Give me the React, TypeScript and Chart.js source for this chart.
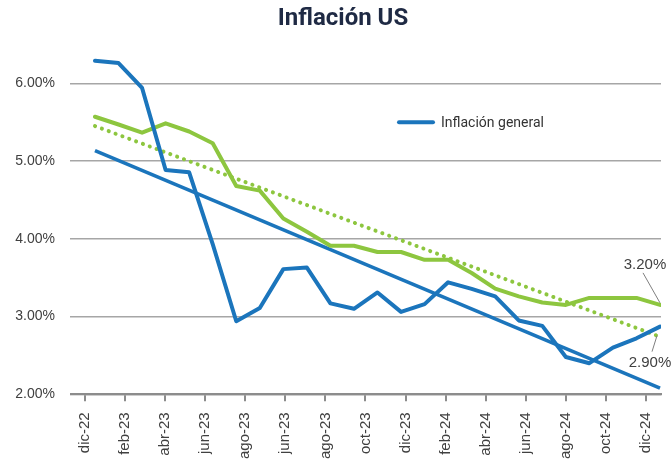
import React, { useEffect, useRef } from 'react';
import { Chart, registerables } from 'chart.js';

Chart.register(...registerables);

// Monthly observations, dic-22 .. dic-24
const months = [
  'dic-22', 'ene-23', 'feb-23', 'mar-23', 'abr-23', 'may-23', 'jun-23', 'jul-23', 'ago-23',
  'sep-23', 'oct-23', 'nov-23', 'dic-23', 'ene-24', 'feb-24', 'mar-24', 'abr-24', 'may-24',
  'jun-24', 'jul-24', 'ago-24', 'sep-24', 'oct-24', 'nov-24', 'dic-24',
];
const inflacionGeneral = [
  6.29, 6.26, 5.94, 4.885, 4.855, 3.93, 2.94, 3.11, 3.61, 3.63, 3.17, 3.1, 3.31,
  3.06, 3.16, 3.44, 3.355, 3.26, 2.95, 2.88, 2.48, 2.4, 2.6, 2.72, 2.87,
];
const inflacionSubyacente = [
  5.57, 5.47, 5.365, 5.485, 5.38, 5.23, 4.68, 4.62, 4.26, 4.09, 3.91, 3.91, 3.83,
  3.83, 3.73, 3.73, 3.56, 3.36, 3.26, 3.18, 3.15, 3.24, 3.24, 3.24, 3.15,
];
// Trend lines: start and end values
const trendIndex = [0, 24];
const tendenciaGeneral = [5.135, 2.08];
const tendenciaSubyacente = [5.45, 2.74];

// Axis tick labels (as shown in the reference)
const tickLabels = [
  'dic-22', 'feb-23', 'abr-23', 'jun-23', 'ago-23', 'jun-23', 'ago-23', 'oct-23',
  'dic-23', 'feb-24', 'abr-24', 'jun-24', 'ago-24', 'oct-24', 'dic-24',
];
const yTicks = [2, 3, 4, 5, 6];
const endLabels = ['2.90%', '3.20%'];

const BLUE = '#1b75bc';
const GREEN = '#8dc63f';
const TEXT = '#404040';
const SANS = "'Liberation Sans', Arial, sans-serif";

const legendPlugin = {
  id: 'customLegend',
  afterDraw(chart: any) {
    const { ctx, chartArea } = chart;
    const ds = chart.data.datasets[0];
    const x0 = chartArea.left + 314;
    const y0 = chartArea.top + 85.7;
    ctx.save();
    ctx.strokeStyle = ds.borderColor;
    ctx.lineWidth = 4;
    ctx.lineCap = 'round';
    ctx.beginPath();
    ctx.moveTo(x0, y0);
    ctx.lineTo(x0 + 34, y0);
    ctx.stroke();
    ctx.fillStyle = '#333333';
    ctx.font = "14px Roboto, 'Liberation Sans', sans-serif";
    ctx.textBaseline = 'middle';
    ctx.textAlign = 'left';
    ctx.fillText(ds.label, x0 + 42, y0 + 0.7);
    ctx.restore();
  },
};

const endLabelPlugin = {
  id: 'endLabels',
  afterDatasetsDraw(chart: any) {
    const { ctx } = chart;
    const specs = [
      { ds: 0, text: endLabels[0], tx: -10, ty: 36, l1: [-8, 25], l2: [-3, 9] },
      { ds: 1, text: endLabels[1], tx: -15, ty: -40, l1: [-17, -32], l2: [0, -2] },
    ];
    ctx.save();
    specs.forEach((s) => {
      const meta = chart.getDatasetMeta(s.ds);
      const pt = meta.data[meta.data.length - 1];
      if (!pt) return;
      ctx.strokeStyle = '#7f7f7f';
      ctx.lineWidth = 1;
      ctx.beginPath();
      ctx.moveTo(pt.x + s.l1[0], pt.y + s.l1[1]);
      ctx.lineTo(pt.x + s.l2[0], pt.y + s.l2[1]);
      ctx.stroke();
      ctx.fillStyle = TEXT;
      ctx.font = `15px ${SANS}`;
      ctx.textAlign = 'center';
      ctx.textBaseline = 'middle';
      ctx.fillText(s.text, pt.x + s.tx, pt.y + s.ty);
    });
    ctx.restore();
  },
};

export default function App() {
  const ref = useRef<HTMLCanvasElement | null>(null);

  useEffect(() => {
    document.body.style.margin = '0';
    if (!ref.current) return;
    const toXY = (vals: number[]) => vals.map((v, i) => ({ x: i, y: v }));
    const trendXY = (vals: number[]) => vals.map((v, i) => ({ x: trendIndex[i], y: v }));

    const chart = new Chart(ref.current, {
      type: 'line',
      data: {
        labels: months,
        datasets: [
          {
            label: 'Inflación general',
            data: toXY(inflacionGeneral),
            borderColor: BLUE,
            borderWidth: 4,
            pointRadius: 0,
            borderJoinStyle: 'round',
            borderCapStyle: 'round',
            tension: 0,
          },
          {
            label: 'Inflación subyacente',
            data: toXY(inflacionSubyacente),
            borderColor: GREEN,
            borderWidth: 4,
            pointRadius: 0,
            borderJoinStyle: 'round',
            borderCapStyle: 'round',
            tension: 0,
          },
          {
            label: 'Tendencia general',
            data: trendXY(tendenciaGeneral),
            borderColor: BLUE,
            borderWidth: 3.6,
            pointRadius: 0,
            tension: 0,
          },
          {
            label: 'Tendencia subyacente',
            data: trendXY(tendenciaSubyacente),
            borderColor: GREEN,
            borderWidth: 4,
            borderDash: [0.1, 7.2],
            borderCapStyle: 'round',
            pointRadius: 0,
            tension: 0,
          },
        ],
      },
      options: {
        responsive: false,
        animation: false,
        layout: { padding: { left: 15, right: 0, top: 0, bottom: 0 } },
        plugins: {
          legend: { display: false },
          tooltip: { enabled: false },
          title: {
            display: true,
            text: 'Inflación US',
            color: '#1f2a44',
            font: { family: 'Roboto, sans-serif', size: 24, weight: 'bold' },
            padding: { top: 5, bottom: 2.85 },
          },
        },
        scales: {
          x: {
            type: 'linear',
            display: false,
            min: -0.4248,
            max: 24.042,
          },
          xl: {
            type: 'linear',
            position: 'bottom',
            min: 0,
            max: 14.375,
            afterBuildTicks: (s: any) => {
              s.ticks = tickLabels.map((_, i) => ({ value: i }));
            },
            afterFit: (s: any) => {
              s.height = 67.7;
              s.paddingLeft = 0;
              s.paddingRight = 10;
            },
            ticks: {
              autoSkip: false,
              maxRotation: 90,
              minRotation: 90,
              padding: 11,
              color: TEXT,
              font: { family: SANS, size: 15 },
              callback: (_v: any, i: number) => tickLabels[i],
            },
            grid: {
              drawOnChartArea: false,
              drawTicks: true,
              tickLength: 7,
              color: '#8c8c8c',
              lineWidth: 2,
            },
            border: { display: true, color: '#8c8c8c', width: 2.3 },
          },
          y: {
            min: 2,
            max: 6.6,
            afterBuildTicks: (s: any) => {
              s.ticks = yTicks.map((v) => ({ value: v }));
            },
            afterFit: (s: any) => {
              s.width = 70;
              s.paddingTop = 0;
              s.paddingBottom = 0;
            },
            ticks: {
              padding: 15,
              color: TEXT,
              font: { family: SANS, size: 14 },
              callback: (v: any) => Number(v).toFixed(2) + '%',
            },
            grid: {
              drawTicks: true,
              tickLength: 15,
              color: (c: any) => (c.tick && c.tick.value === 2 ? '#8c8c8c' : '#a6a6a6'),
              lineWidth: (c: any) => (c.tick && c.tick.value === 2 ? 2.3 : 1.5),
            },
            border: { display: false },
          },
        },
      },
      plugins: [legendPlugin, endLabelPlugin],
    } as any);

    return () => chart.destroy();
  }, []);

  return (
    <div style={{ width: 671, height: 462, background: '#fff' }}>
      <canvas ref={ref} width={671} height={462} style={{ display: 'block' }} />
    </div>
  );
}
